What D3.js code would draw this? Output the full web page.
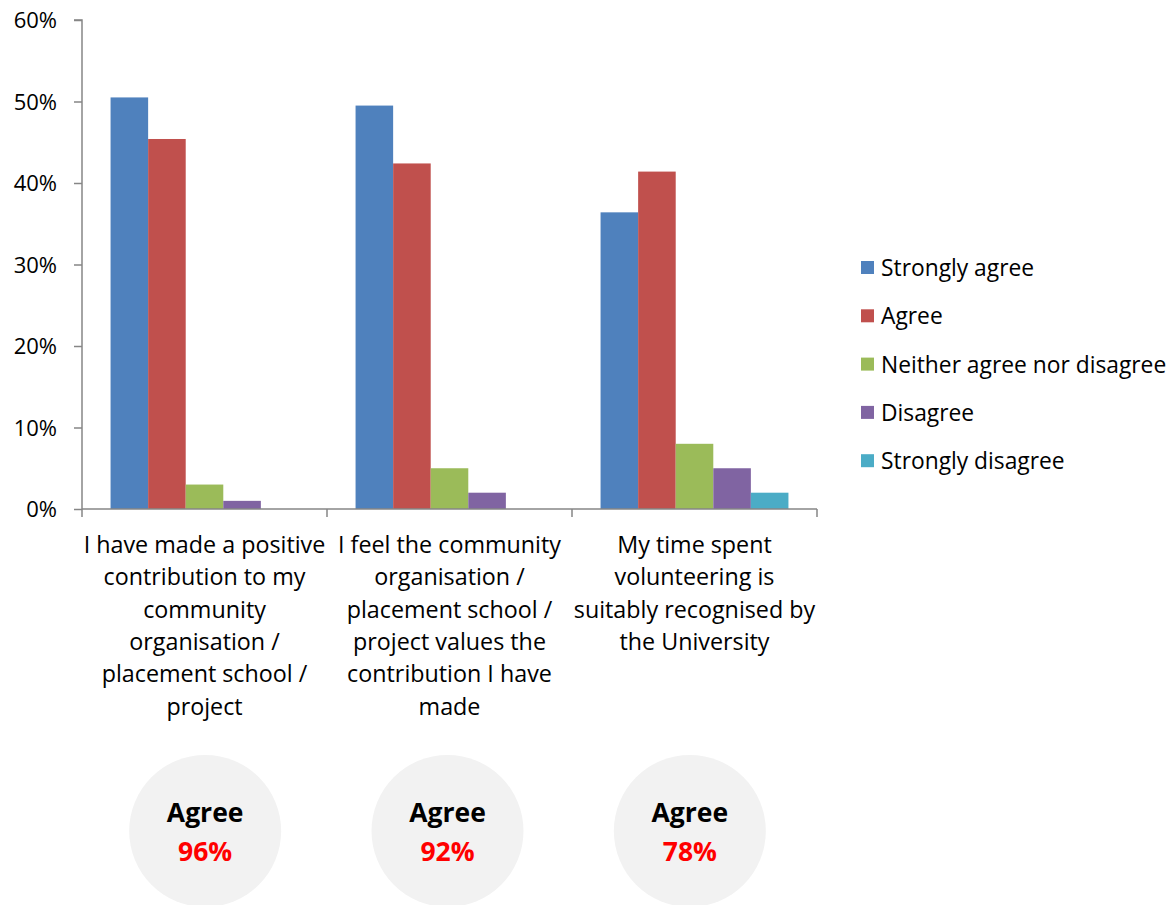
<!DOCTYPE html>
<html><head><meta charset="utf-8">
<script src="https://cdn.jsdelivr.net/npm/d3@7"></script>
<style>body{margin:0;background:#fff;} text{font-family:"Open Sans",sans-serif;}</style>
</head><body>
<svg id="c" width="1175" height="905"></svg>
<script>
const categories = [
  ["I have made a positive","contribution to my","community","organisation /","placement school /","project"],
  ["I feel the community","organisation /","placement school /","project values the","contribution I have","made"],
  ["My time spent","volunteering is","suitably recognised by","the University"]
];
const seriesNames = ["Strongly agree","Agree","Neither agree nor disagree","Disagree","Strongly disagree"];
const seriesColors = ["#4F81BD","#C0504D","#9BBB59","#8064A2","#4BACC6"];
const stronglyAgree = [50.5, 49.5, 36.4];
const agree = [45.4, 42.4, 41.4];
const neither = [3, 5, 8];
const disagree = [1, 2, 5];
const stronglyDisagree = [0, 0, 2];
const yTicks = [0,10,20,30,40,50,60];
const agreeTotals = ["96%","92%","78%"];

(function(){
const series = [stronglyAgree, agree, neither, disagree, stronglyDisagree];
const svg = d3.select("#c");
const mLeft = 82, mRight = 817, mTop = 20, mBottom = 509;
const x0 = d3.scaleBand().domain(d3.range(categories.length)).range([mLeft, mRight]).paddingInner(0).paddingOuter(0);
const x1 = d3.scaleBand().domain(d3.range(series.length)).range([0, x0.bandwidth()]).paddingOuter(0.76).paddingInner(0);
const xc = d3.scaleBand().domain(d3.range(categories.length)).range([84, 811]);
const y = d3.scaleLinear().domain([0, 60]).range([mBottom, mTop]);
const axisColor = "#868686";

const g = svg.append("g");
categories.forEach((c, ci) => {
  series.forEach((s, si) => {
    if (s[ci] <= 0) return;
    g.append("rect")
      .attr("x", x0(ci) + x1(si))
      .attr("y", y(s[ci]))
      .attr("width", x1.bandwidth())
      .attr("height", y(0) - y(s[ci]))
      .attr("fill", seriesColors[si]);
  });
});

const ya = svg.append("g").attr("transform", `translate(${mLeft},0)`)
  .call(d3.axisLeft(y).tickValues(yTicks).tickFormat(d => d + "%").tickSize(8).tickPadding(17));
ya.select(".domain").attr("stroke", axisColor).attr("stroke-width", 1.5).attr("d", `M-8,${mTop}H0V${mBottom}`);
ya.selectAll(".tick line").attr("stroke", axisColor).attr("stroke-width", 1.5);
ya.selectAll(".tick text").attr("fill", "#000").style("font-size", "22px").attr("dy", "0.35em")
  .style("font-family", "'Open Sans', sans-serif");

const xa = svg.append("g").attr("transform", `translate(0,${mBottom})`);
xa.append("line").attr("x1", mLeft).attr("x2", mRight).attr("y1", 0).attr("y2", 0)
  .attr("stroke", axisColor).attr("stroke-width", 1.5);
d3.range(categories.length + 1).forEach(i => {
  const xx = i < categories.length ? x0(i) : mRight;
  xa.append("line").attr("x1", xx).attr("x2", xx).attr("y1", 0).attr("y2", 8)
    .attr("stroke", axisColor).attr("stroke-width", 1.5);
});

categories.forEach((lines, ci) => {
  const cx = x0(ci) + x0.bandwidth() / 2;
  const t = svg.append("text").attr("text-anchor", "middle").style("font-size", "23.3px").attr("fill", "#000");
  lines.forEach((l, li) => {
    t.append("tspan").attr("x", cx).attr("y", 553 + li * 32.3).text(l);
  });
});

seriesNames.forEach((n, i) => {
  const yy = 268 + i * 48.3;
  svg.append("rect").attr("x", 861).attr("y", yy - 7).attr("width", 13).attr("height", 13).attr("fill", seriesColors[i]);
  svg.append("text").attr("x", 881).attr("y", yy + 8).style("font-size", "22.8px").attr("fill", "#000").text(n);
});

agreeTotals.forEach((v, ci) => {
  const cx = xc(ci) + xc.bandwidth() / 2;
  svg.append("circle").attr("cx", cx).attr("cy", 831).attr("r", 76).attr("fill", "#F2F2F2");
  svg.append("text").attr("x", cx).attr("y", 822).attr("text-anchor", "middle")
    .style("font-size", "26.5px").style("font-weight", "bold").attr("fill", "#000").text("Agree");
  svg.append("text").attr("x", cx).attr("y", 861).attr("text-anchor", "middle")
    .style("font-size", "26.5px").style("font-weight", "bold").attr("fill", "#FF0000").text(v);
});
})();
</script>
</body></html>
